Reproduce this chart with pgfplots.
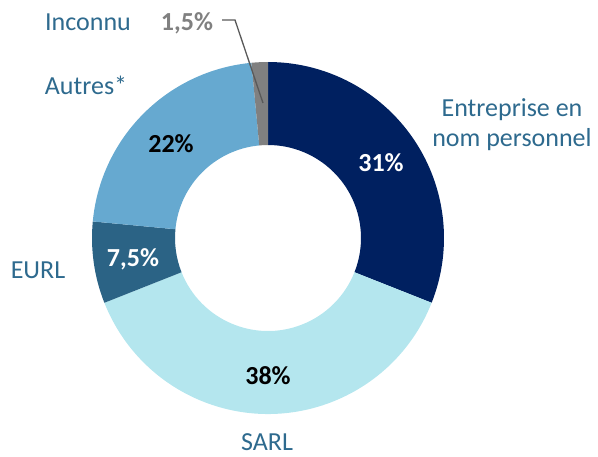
\documentclass[border=0pt]{standalone}
\usepackage{pgfplots}
\pgfplotsset{compat=1.18}
\usepackage{fontspec}
\setmainfont{Carlito}
\definecolor{cEnt}{HTML}{002060}
\definecolor{cSarl}{HTML}{B4E6EE}
\definecolor{cEurl}{HTML}{2B6385}
\definecolor{cAut}{HTML}{66A9D0}
\definecolor{cInc}{HTML}{808080}
\definecolor{lab}{HTML}{2E6A8E}
\definecolor{lead}{HTML}{595959}
\tikzset{lbl/.style={inner sep=0pt, anchor=base, font=\fontsize{26}{30}\selectfont}}
\begin{document}
\begin{tikzpicture}
\useasboundingbox (0,0) rectangle (598pt,456pt);
\begin{axis}[hide axis, scale only axis, width=598pt, height=456pt,
  xmin=0, xmax=598, ymin=0, ymax=456, clip=false]
% values in percent, clockwise from the top
\pgfplotsextra{
  \def\Ro{176pt}\def\Ri{93pt}
  \def\s{90}
  \foreach \v/\c in {31/cEnt, 38/cSarl, 7.5/cEurl, 22/cAut, 1.5/cInc}{
    \pgfmathsetmacro\e{\s-3.6*\v}
    \fill[\c] (axis cs:268,218) ++(\s:\Ro) arc[start angle=\s, end angle=\e, radius=\Ro]
      -- ++(\e:-83pt) arc[start angle=\e, end angle=\s, radius=\Ri] -- cycle;
    \global\let\s\e
  }
}
\draw[lead, line width=1.3pt] (axis cs:222,436) -- (axis cs:235,436) -- (axis cs:263,353);
\node[lbl, text=lab] at (axis cs:88,425) {Inconnu};
\node[lbl, text=cInc] at (axis cs:187,425) {\bfseries 1,5\%};
\node[lbl, text=lab] at (axis cs:86,361) {Autres*};
\node[lbl, text=lab] at (axis cs:512,339) {Entreprise en};
\node[lbl, text=lab] at (axis cs:512,309) {nom personnel};
\node[lbl, text=lab] at (axis cs:38,177) {EURL};
\node[lbl, text=lab] at (axis cs:267,6) {SARL};
\node[lbl, text=white] at (axis cs:381,284) {\bfseries 31\%};
\node[lbl, text=black] at (axis cs:268,71) {\bfseries 38\%};
\node[lbl, text=white] at (axis cs:133,189) {\bfseries 7,5\%};
\node[lbl, text=black] at (axis cs:171,303) {\bfseries 22\%};
\end{axis}
\end{tikzpicture}
\end{document}
